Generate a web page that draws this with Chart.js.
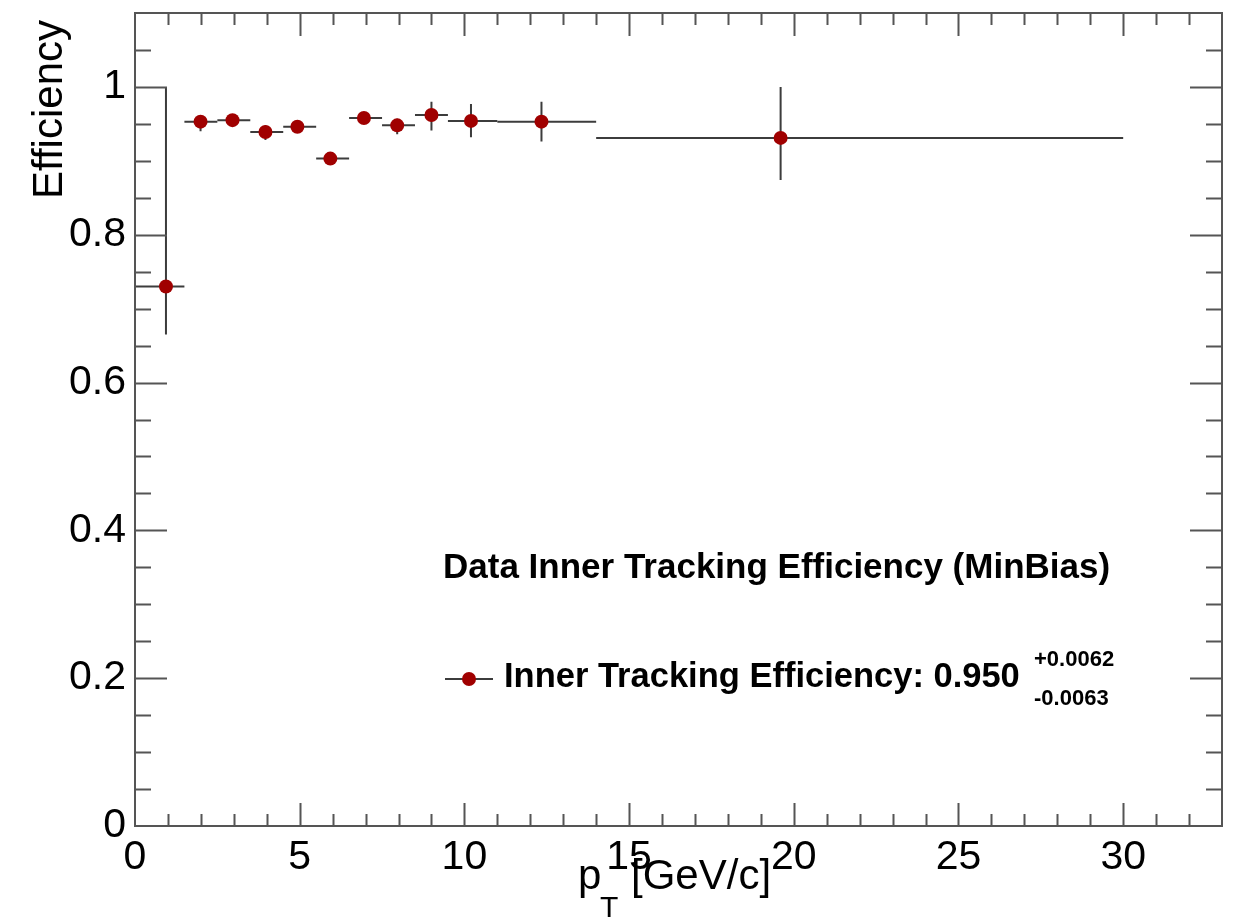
<!DOCTYPE html>
<html>
<head>
<meta charset="utf-8">
<script src="https://cdn.jsdelivr.net/npm/chart.js@4.4.0/dist/chart.umd.min.js"></script>
<style>
html,body{margin:0;padding:0;background:#fff;}
#wrap{width:1238px;height:921px;position:relative;}
</style>
</head>
<body>
<div id="wrap"><canvas id="c" width="1238" height="921"></canvas></div>
<script>
// ---- data ----
const ptValues  = [0.94, 1.99, 2.96, 3.96, 4.93, 5.93, 6.95, 7.96, 9.00, 10.20, 12.34, 19.60];
const effValues = [0.730, 0.953, 0.955, 0.939, 0.946, 0.903, 0.958, 0.948, 0.962, 0.954, 0.953, 0.931];
const ptLow     = [0.0, 1.5, 2.5, 3.5, 4.5, 5.5, 6.5, 7.5, 8.5, 9.5, 11.0, 14.0];
const ptHigh    = [1.5, 2.5, 3.5, 4.5, 5.5, 6.5, 7.5, 8.5, 9.5, 11.0, 14.0, 30.0];
const effLow    = [0.665, 0.940, 0.947, 0.928, 0.938, 0.896, 0.950, 0.936, 0.941, 0.932, 0.926, 0.874];
const effHigh   = [1.000, 0.961, 0.963, 0.948, 0.954, 0.910, 0.966, 0.957, 0.980, 0.977, 0.980, 1.000];
const xTickLabels = ['0', '5', '10', '15', '20', '25', '30'];
const yTickLabels = ['0', '0.2', '0.4', '0.6', '0.8', '1'];
const legendTitle = 'Data Inner Tracking Efficiency (MinBias)';
const legendEntry = 'Inner Tracking Efficiency: 0.950';
const legendUp = '+0.0062';
const legendDown = '-0.0063';

const FONT = '"Liberation Sans", Arial, Helvetica, sans-serif';
const MARK = '#a00000';
const LINE = '#3c3c3c';
const FRAME = '#555555';

const rootPlugin = {
  id: 'rootStyle',
  beforeDatasetsDraw(chart) {
    const {ctx, scales: {x, y}} = chart;
    ctx.save();
    ctx.strokeStyle = LINE;
    ctx.lineWidth = 2;
    for (let i = 0; i < ptValues.length; i++) {
      const px = x.getPixelForValue(ptValues[i]);
      const py = y.getPixelForValue(effValues[i]);
      ctx.beginPath();
      ctx.moveTo(x.getPixelForValue(ptLow[i]), py);
      ctx.lineTo(x.getPixelForValue(ptHigh[i]), py);
      ctx.moveTo(px, y.getPixelForValue(effLow[i]));
      ctx.lineTo(px, y.getPixelForValue(effHigh[i]));
      ctx.stroke();
    }
    ctx.restore();
  },
  afterDraw(chart) {
    const {ctx, chartArea: a, scales: {x, y}} = chart;
    ctx.save();
    // frame
    ctx.strokeStyle = FRAME;
    ctx.lineWidth = 2;
    ctx.strokeRect(a.left, a.top, a.right - a.left, a.bottom - a.top);
    // y ticks
    ctx.beginPath();
    for (let k = 1; k * 0.05 < y.max - 1e-9; k++) {
      const v = k * 0.05;
      const major = (k % 4 === 0);
      const len = major ? 32 : 16;
      const py = Math.round(y.getPixelForValue(v)) + 0.5;
      ctx.moveTo(a.left, py); ctx.lineTo(a.left + len, py);
      ctx.moveTo(a.right, py); ctx.lineTo(a.right - len, py);
    }
    // x ticks
    for (let k = 1; k < x.max - 1e-9; k++) {
      const major = (k % 5 === 0);
      const len = major ? 23 : 12;
      const px = Math.round(x.getPixelForValue(k)) + 0.5;
      ctx.moveTo(px, a.bottom); ctx.lineTo(px, a.bottom - len);
      ctx.moveTo(px, a.top); ctx.lineTo(px, a.top + len);
    }
    ctx.stroke();

    // axis titles
    ctx.fillStyle = '#000';
    ctx.font = '42px ' + FONT;
    ctx.save();
    ctx.translate(62, 20);
    ctx.rotate(-Math.PI / 2);
    ctx.textAlign = 'right';
    ctx.textBaseline = 'alphabetic';
    ctx.fillText('Efficiency', 0, 0);
    ctx.restore();

    ctx.textAlign = 'left';
    ctx.textBaseline = 'alphabetic';
    ctx.font = '42px ' + FONT;
    ctx.fillText('p', 578, 889);
    ctx.font = '30px ' + FONT;
    ctx.fillText('T', 600, 917);
    ctx.font = '42px ' + FONT;
    ctx.fillText('[GeV/c]', 631, 889);

    // legend
    ctx.font = 'bold 35px ' + FONT;
    ctx.fillText(legendTitle, 443, 578);
    ctx.strokeStyle = LINE;
    ctx.lineWidth = 2;
    ctx.beginPath();
    ctx.moveTo(445, 679); ctx.lineTo(493, 679);
    ctx.stroke();
    ctx.fillStyle = MARK;
    ctx.beginPath();
    ctx.arc(469, 679, 7, 0, Math.PI * 2);
    ctx.fill();
    ctx.fillStyle = '#000';
    ctx.font = 'bold 34.5px ' + FONT;
    ctx.fillText(legendEntry, 504, 687);
    ctx.font = 'bold 22px ' + FONT;
    ctx.fillText(legendUp, 1034, 666);
    ctx.fillText(legendDown, 1034, 705);
    ctx.restore();
  }
};

new Chart(document.getElementById('c'), {
  type: 'scatter',
  data: {
    datasets: [{
      label: 'Inner Tracking Efficiency',
      data: ptValues.map((v, i) => ({x: v, y: effValues[i]})),
      backgroundColor: MARK,
      borderColor: MARK,
      borderWidth: 0,
      pointRadius: 7,
      pointHoverRadius: 7
    }]
  },
  options: {
    responsive: false,
    animation: false,
    devicePixelRatio: 1,
    layout: {padding: {top: 13, right: 16, left: 0, bottom: 0}},
    plugins: {legend: {display: false}, tooltip: {enabled: false}},
    scales: {
      x: {
        type: 'linear', min: 0, max: 33,
        grid: {display: false, drawTicks: false},
        border: {display: false},
        ticks: {
          stepSize: 5, includeBounds: false, padding: 7,
          color: '#000', font: {family: FONT, size: 41},
          maxRotation: 0, autoSkip: false,
          callback: (v) => xTickLabels[Math.round(v / 5)]
        },
        afterFit: (s) => { s.height = 95; s.paddingLeft = 0; s.paddingRight = 0; }
      },
      y: {
        type: 'linear', min: 0, max: 1.1,
        grid: {display: false, drawTicks: false},
        border: {display: false},
        ticks: {
          stepSize: 0.2, includeBounds: false, padding: 9,
          color: '#000', font: {family: FONT, size: 41},
          autoSkip: false,
          callback: (v) => yTickLabels[Math.round(v / 0.2)]
        },
        afterFit: (s) => { s.width = 135; s.paddingTop = 0; s.paddingBottom = 0; }
      }
    }
  },
  plugins: [rootPlugin]
});
</script>
</body>
</html>
